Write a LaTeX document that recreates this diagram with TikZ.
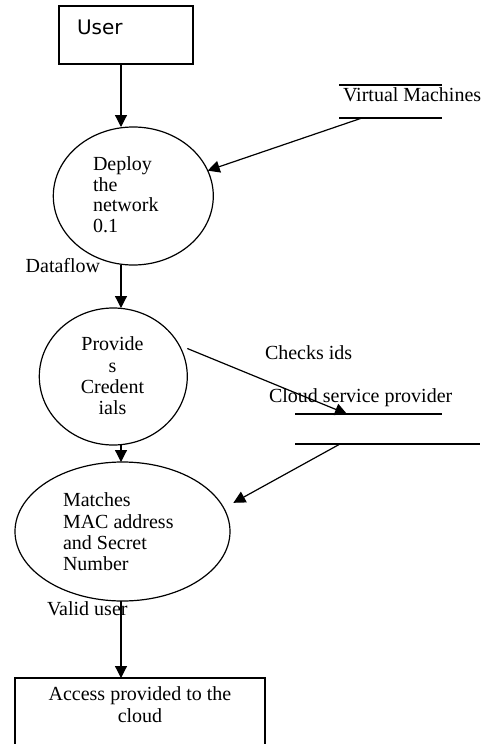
\documentclass[tikz,border=0pt]{standalone}
\usepackage{fontspec}
\setmainfont{Liberation Serif}
\newfontfamily\labelsans{DejaVu Sans}
\usetikzlibrary{shapes.geometric,arrows.meta,calc}
\begin{document}
\begin{tikzpicture}[x=1pt,y=-1pt,line width=1.2pt,
  every node/.style={inner sep=0pt,outer sep=0pt},
  txt/.style={font=\fontsize{20}{21.3}\selectfont},
  proc/.style={draw,ellipse},
  box/.style={draw,rectangle},
  store/.style={rectangle},
  flow/.style={draw,-{Triangle[length=12pt,width=12pt]}}]
\clip (0,0) rectangle (485,744);
\fill[white] (0,0) rectangle (485,744);

% column of the main flow
\coordinate (col) at (121,0);

% external entity and processes
\node[box,minimum width=134pt,minimum height=58pt] (user) at (126,35) {};
\node[anchor=base west,font=\labelsans\fontsize{20}{22}\selectfont] (usertext) at (77,34) {User};

\node[proc,minimum width=160pt,minimum height=138pt] (p1) at (133.3,196) {};
\node[txt,font=\fontsize{20}{20.5}\selectfont,align=left,anchor=north west] (p1text) at (93,157) {Deploy\\the\\network\\0.1};

\node[proc,minimum width=148pt,minimum height=137pt] (p2) at (113.3,376.5) {};
\node[txt,align=center,anchor=north] (p2text) at (112.5,337) {Provide\\s\\Credent\\ials};

\node[proc,minimum width=215pt,minimum height=139pt] (p3) at (122.5,531.5) {};
\node[txt,align=left,anchor=north west] (p3text) at (63,493) {Matches\\MAC address\\and Secret\\Number};

\node[box,minimum width=250pt,minimum height=92pt] (access) at (140,724) {};
\node[txt,align=center,anchor=north] (accesstext) at (140,687) {Access provided to the\\cloud};

% data stores
\node[store,minimum width=103pt,minimum height=33pt] (vm) at (390.5,101.5) {};
\draw (vm.north west) -- (vm.north east);
\draw (vm.south west) -- (vm.south east);
\node[txt,anchor=base west] (vmtext) at (343,101.7) {Virtual Machines};

\node[store,minimum width=147pt,minimum height=30pt] (csp) at (368.5,429) {};
\draw (csp.north west) -- (csp.north east);
\draw (csp.south west) -- ([xshift=38pt]csp.south east);
\node[txt,anchor=base west] (csptext) at (269,402) {Cloud service provider};

% flow labels
\node[txt,anchor=base west] (dataflow) at (25.7,272.7) {Dataflow};
\node[txt,anchor=base west] (checks) at (265,359) {Checks ids};
\node[txt,anchor=base west] (valid) at (47,615) {Valid user};

% data flows
\draw[flow] (user.south -| col) -- (p1.north -| col);
\draw[flow] (p1.south -| col) -- (p2.north -| col);
\draw[flow] (p2.south -| col) -- (p3.north -| col);
\draw[flow] (p3.south -| col) -- (access.north -| col);
\draw[flow] ([xshift=-28.5pt]vm.south) -- (p1);
\draw[flow] ([yshift=28pt]p2.east) -- ([xshift=52pt]csp.north west);
\draw[flow,shorten >=11pt] ([xshift=45pt]csp.south west) -- (p3.13);
\end{tikzpicture}
\end{document}
